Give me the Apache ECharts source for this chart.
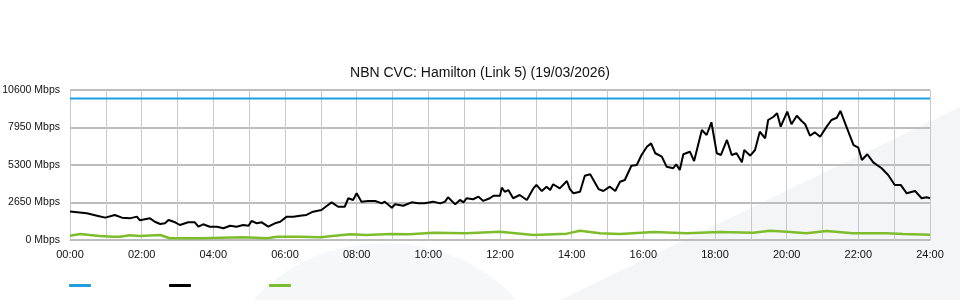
<!DOCTYPE html>
<html>
<head>
<meta charset="utf-8">
<script src="https://cdn.jsdelivr.net/npm/echarts@6/dist/echarts.min.js"></script>
<style>
html,body{margin:0;padding:0;background:#fff;}
#c{width:960px;height:300px;}
</style>
</head>
<body>
<div id="c"></div>
<script>
var titleText = 'NBN CVC: Hamilton (Link 5) (19/03/2026)';
var seriesNames = ['Capacity', 'Download', 'Upload'];
var capacityValue = 10000;
var yTicks = [0, 2650, 5300, 7950, 10600];
var xTickMinutes = [0, 120, 240, 360, 480, 600, 720, 840, 960, 1080, 1200, 1320, 1440];

var downMin = [0,20,28,47,59,75,87,100,112,117,134,142,151,159,165,176,184,198,209,215,223,234,246,257,268,279,290,299,304,313,321,332,343,352,363,374,385,396,407,421,432,438,449,460,466,474,480,488,499,511,522,527,539,544,558,572,583,594,608,620,628,633,645,653,659,664,675,684,692,703,709,720,723,728,734,742,753,765,776,781,790,798,804,809,820,832,837,843,854,862,871,885,893,904,913,921,929,932,940,949,957,966,973,980,991,999,1010,1015,1021,1027,1038,1045,1058,1066,1074,1083,1090,1100,1108,1116,1125,1129,1139,1147,1155,1164,1169,1178,1184,1190,1201,1208,1217,1225,1231,1239,1247,1256,1267,1275,1284,1290,1300,1312,1320,1326,1329,1335,1345,1359,1370,1381,1391,1401,1415,1426,1434,1440];
var downVal = [2010,1930,1890,1700,1580,1770,1580,1530,1650,1390,1530,1290,1130,1180,1410,1250,1060,1250,1250,940,1110,940,940,830,1010,940,1060,1010,1340,1180,1250,940,1180,1290,1650,1650,1720,1770,2000,2120,2470,2660,2350,2350,2950,2830,3300,2710,2760,2760,2590,2710,2280,2520,2420,2660,2590,2590,2710,2590,2710,3020,2520,2830,2660,2950,2880,3060,2760,2950,3130,3130,3700,3410,3530,2950,3180,2830,3650,3890,3460,3770,3530,3940,3650,4170,3600,3300,3410,4540,4640,3600,3460,3770,3460,4120,4240,4120,5250,5300,6010,6590,6830,6130,5890,5180,5070,5350,4950,6060,6240,5580,7770,7420,8320,6130,6010,7070,6010,6130,5490,6360,5960,6360,7650,7190,8480,8710,8950,8010,9070,8180,8780,8410,8180,7370,7610,7300,8010,8480,8640,9120,8010,6710,6520,5650,5650,6060,5490,5070,4590,3890,3890,3300,3460,2950,3020,2950];

var upMin = [0,17,33,50,72,84,100,117,151,167,184,218,290,330,347,385,419,469,497,536,569,608,664,720,776,832,854,887,921,977,1033,1088,1144,1172,1200,1233,1267,1311,1367,1395,1440];
var upVal = [300,420,350,280,230,230,330,280,350,120,120,120,190,120,230,230,190,400,350,420,400,520,470,590,350,450,660,470,420,560,470,560,520,660,590,470,640,470,470,420,370];

function pairs(xs, ys) { return xs.map(function (x, i) { return [x, ys[i]]; }); }
function hhmm(m) { var h = Math.round(m / 60); return (h < 10 ? '0' : '') + h + ':00'; }

var chart = echarts.init(document.getElementById('c'), null, {renderer: 'canvas'});
chart.setOption({
  animation: false,
  backgroundColor: '#ffffff',
  textStyle: {fontFamily: 'Liberation Sans, Arial, sans-serif'},
  title: {
    text: titleText, left: 'center', top: 61,
    textStyle: {fontSize: 14, fontWeight: 'normal', color: '#111', fontFamily: 'Liberation Sans, Arial, sans-serif'}
  },
  legend: {
    data: seriesNames, left: 69, top: 284, padding: 0, itemWidth: 22, itemHeight: 3, itemGap: 78,
    icon: 'roundRect', formatter: function () { return ''; },
    textStyle: {fontSize: 1}
  },
  graphic: [
    {type: 'polygon', z: -10, shape: {points: [[560, 300], [960, 107], [960, 300]]}, style: {fill: '#f4f5f7'}},
    {type: 'ellipse', z: -10, shape: {cx: 385, cy: 398, rx: 170, ry: 155}, style: {fill: '#f6f7f9'}}
  ],
  grid: {left: 70, right: 30, top: 90, bottom: 60, containLabel: false, outerBoundsMode: 'none'},
  xAxis: {
    type: 'value', min: 0, max: 1440, interval: 60,
    axisLine: {show: true, lineStyle: {color: '#bdbdbd', width: 1}},
    axisTick: {show: false},
    axisLabel: {
      color: '#111', fontSize: 11, margin: 9,
      formatter: function (v) { return xTickMinutes.indexOf(v) >= 0 ? hhmm(v) : ''; },
      showMinLabel: true, showMaxLabel: true
    },
    splitLine: {show: true, lineStyle: {color: '#c8c8c8', width: 1}}
  },
  yAxis: {
    type: 'value', min: yTicks[0], max: yTicks[yTicks.length - 1], interval: 2650,
    axisLine: {show: true, lineStyle: {color: '#c8c8c8', width: 1}},
    axisTick: {show: false},
    axisLabel: {color: '#111', fontSize: 10.5, margin: 10, formatter: function (v) { return v + ' Mbps'; }},
    splitLine: {show: true, lineStyle: {color: '#bdbdbd', width: 2}}
  },
  series: [
    {name: seriesNames[0], type: 'line', showSymbol: false, symbol: 'none',
      data: [[0, capacityValue], [1440, capacityValue]],
      lineStyle: {color: '#1e9ee0', width: 2}, itemStyle: {color: '#1e9ee0'}, z: 3},
    {name: seriesNames[1], type: 'line', showSymbol: false, symbol: 'none',
      data: pairs(downMin, downVal),
      lineStyle: {color: '#000000', width: 2}, itemStyle: {color: '#000000'}, z: 4},
    {name: seriesNames[2], type: 'line', showSymbol: false, symbol: 'none',
      data: pairs(upMin, upVal),
      lineStyle: {color: '#7dbd2c', width: 2.5}, itemStyle: {color: '#7dbd2c'}, z: 3}
  ]
});
</script>
</body>
</html>
